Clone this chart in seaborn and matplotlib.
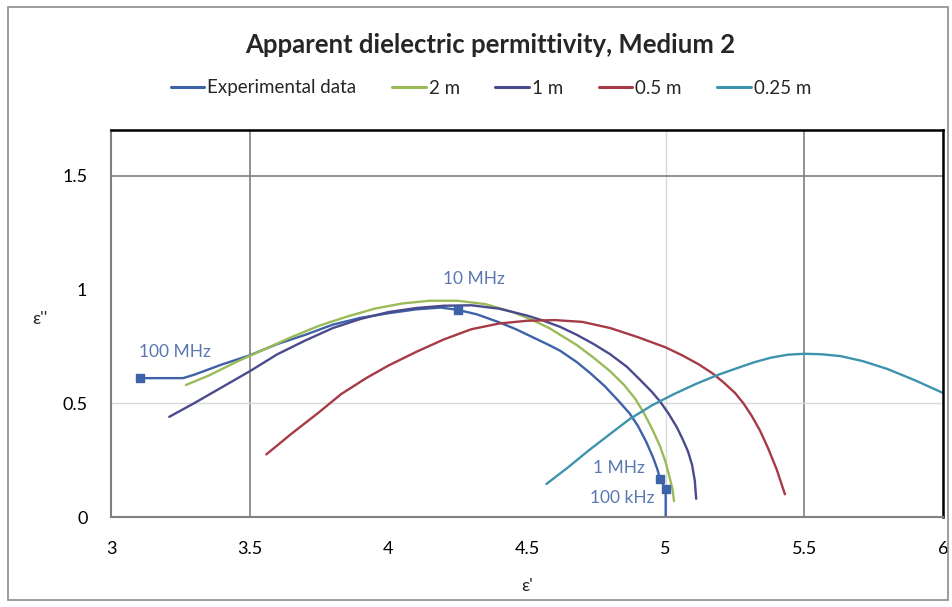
import numpy as np
import pandas as pd
import matplotlib
matplotlib.use("Agg")
import matplotlib.pyplot as plt
import seaborn as sns
from matplotlib.patches import Rectangle

# ---- data ----
exp_x = [3.105, 3.26, 3.30, 3.40, 3.50, 3.60, 3.70, 3.80, 3.90, 4.00, 4.10, 4.19, 4.25, 4.32,
         4.40, 4.46, 4.52, 4.58, 4.62, 4.68, 4.73, 4.78, 4.83, 4.87, 4.90, 4.93, 4.955, 4.97, 4.98, 5.00, 5.00]
exp_y = [0.61, 0.61, 0.625, 0.67, 0.71, 0.76, 0.80, 0.845, 0.875, 0.895, 0.912, 0.92, 0.91, 0.89,
         0.855, 0.825, 0.79, 0.755, 0.73, 0.68, 0.63, 0.575, 0.51, 0.455, 0.40, 0.33, 0.26, 0.21, 0.166, 0.122, 0.0]

m2_x = [3.27, 3.35, 3.45, 3.55, 3.65, 3.75, 3.85, 3.95, 4.05, 4.15, 4.25, 4.35, 4.45, 4.52, 4.58,
        4.62, 4.68, 4.74, 4.80, 4.85, 4.89, 4.92, 4.95, 4.98, 5.00, 5.015, 5.025, 5.03]
m2_y = [0.58, 0.62, 0.68, 0.735, 0.79, 0.84, 0.88, 0.915, 0.938, 0.95, 0.95, 0.935, 0.90, 0.865, 0.83,
        0.80, 0.755, 0.70, 0.64, 0.58, 0.52, 0.46, 0.39, 0.31, 0.24, 0.17, 0.12, 0.07]

m1_x = [3.21, 3.30, 3.40, 3.50, 3.60, 3.70, 3.80, 3.90, 4.00, 4.10, 4.20, 4.30, 4.40, 4.50, 4.56,
        4.62, 4.68, 4.74, 4.80, 4.86, 4.91, 4.95, 4.98, 5.01, 5.04, 5.06, 5.08, 5.095, 5.105, 5.11]
m1_y = [0.44, 0.50, 0.57, 0.64, 0.715, 0.775, 0.83, 0.87, 0.90, 0.918, 0.928, 0.93, 0.915, 0.885, 0.862,
        0.835, 0.80, 0.76, 0.715, 0.66, 0.60, 0.55, 0.507, 0.455, 0.395, 0.345, 0.29, 0.23, 0.16, 0.08]

m05_x = [3.56, 3.65, 3.75, 3.83, 3.92, 4.00, 4.10, 4.20, 4.30, 4.40, 4.50, 4.60, 4.70, 4.80, 4.90,
         5.00, 5.06, 5.12, 5.17, 5.21, 5.25, 5.28, 5.31, 5.34, 5.37, 5.40, 5.43]
m05_y = [0.275, 0.365, 0.46, 0.54, 0.61, 0.665, 0.725, 0.78, 0.825, 0.85, 0.862, 0.865, 0.857, 0.83, 0.79,
         0.745, 0.71, 0.67, 0.63, 0.59, 0.545, 0.50, 0.445, 0.38, 0.30, 0.21, 0.10]

m025_x = [4.57, 4.65, 4.72, 4.80, 4.87, 4.95, 5.03, 5.11, 5.19, 5.26, 5.32, 5.38, 5.44, 5.50, 5.56,
          5.63, 5.71, 5.80, 5.90, 6.00]
m025_y = [0.145, 0.22, 0.29, 0.365, 0.43, 0.49, 0.54, 0.585, 0.625, 0.655, 0.68, 0.70, 0.713, 0.717, 0.715,
          0.707, 0.685, 0.65, 0.60, 0.545]

series_names = ["Experimental data", "2 m", "1 m", "0.5 m", "0.25 m"]
series_colors = ["#3D62A8", "#9BBB59", "#4A4A8E", "#A63A45", "#3E93AD"]

freq_labels = ["100 MHz", "10 MHz", "1 MHz", "100 kHz"]
freq_x = [3.105, 4.25, 4.98, 5.00]
freq_y = [0.61, 0.91, 0.166, 0.122]
freq_label_x = [3.23, 4.31, 4.83, 4.845]
freq_label_y = [0.726, 1.045, 0.215, 0.085]

x_ticks = [3, 3.5, 4, 4.5, 5, 5.5, 6]
x_ticklabels = ["3", "3.5", "4", "4.5", "5", "5.5", "6"]
y_ticks = [0, 0.5, 1, 1.5]
y_ticklabels = ["0", "0.5", "1", "1.5"]

# ---- build long table ----
frames = []
for name, xs, ys in zip(series_names,
                        [exp_x, m2_x, m1_x, m05_x, m025_x],
                        [exp_y, m2_y, m1_y, m05_y, m025_y]):
    frames.append(pd.DataFrame({"x": xs, "y": ys, "series": name}))
df = pd.concat(frames, ignore_index=True)

sns.set_style("white")
plt.rcParams["font.family"] = ["Lato", "DejaVu Sans"]

fig = plt.figure(figsize=(9.53, 6.07), dpi=100)
ax = fig.add_axes([111/953, 1-517/607, (943-111)/953, (517-130)/607])

sns.lineplot(data=df, x="x", y="y", hue="series", hue_order=series_names,
             palette=series_colors, sort=False, estimator=None, units="series",
             lw=1.7, ax=ax, legend=False)

ax.scatter(freq_x, freq_y, marker="s", s=26, color=series_colors[0], zorder=5)
for lab, lx, ly in zip(freq_labels, freq_label_x, freq_label_y):
    ax.text(lx, ly, lab, color="#5A78B0", fontsize=12.5, ha="center", va="center")

ax.set_xlim(3, 6)
ax.set_ylim(0, 1.7)
ax.set_xticks(x_ticks)
ax.set_xticklabels(x_ticklabels)
ax.set_yticks(y_ticks)
ax.set_yticklabels(y_ticklabels)
ax.tick_params(axis="both", direction="out", length=5, width=1, color="#808080",
               labelsize=13, labelcolor="#000000")
ax.tick_params(axis="x", pad=12)
ax.tick_params(axis="y", pad=12)

# gridlines
for gx in [3.5, 5.5]:
    ax.axvline(gx, color="#808080", lw=1.2, zorder=0)
for gx in [5.0]:
    ax.axvline(gx, color="#D9D9D9", lw=1.0, zorder=0)
ax.axhline(1.5, color="#808080", lw=1.2, zorder=0)
ax.axhline(0.5, color="#D9D9D9", lw=1.0, zorder=0)

for s in ["top", "right"]:
    ax.spines[s].set_color("#000000")
    ax.spines[s].set_linewidth(1.8)
for s in ["left", "bottom"]:
    ax.spines[s].set_color("#808080")
    ax.spines[s].set_linewidth(1.5)

ax.set_xlabel("ε'", fontsize=13)
ax.xaxis.set_label_coords(0.5, -0.158)
ax.set_ylabel("ε''", fontsize=13, rotation=0)
ax.yaxis.set_label_coords(-0.085, 0.49)

fig.text(490/953, 1-45/607, "Apparent dielectric permittivity, Medium 2",
         ha="center", va="center", fontsize=18.5, fontweight="bold")

handles = [plt.Line2D([0], [0], color=c, lw=2.2) for c in series_colors]
fig.legend(handles, series_names, loc="center", bbox_to_anchor=(491/953, 1-88/607),
           ncol=5, frameon=False, fontsize=13.5, handlelength=1.8, handletextpad=0.15,
           columnspacing=1.9)

fig.patches.append(Rectangle((8/953, 7/607), 940/953, 593/607, transform=fig.transFigure,
                             fill=False, edgecolor="#8C8C8C", lw=1.2))

fig.savefig("out.png", dpi=100)
